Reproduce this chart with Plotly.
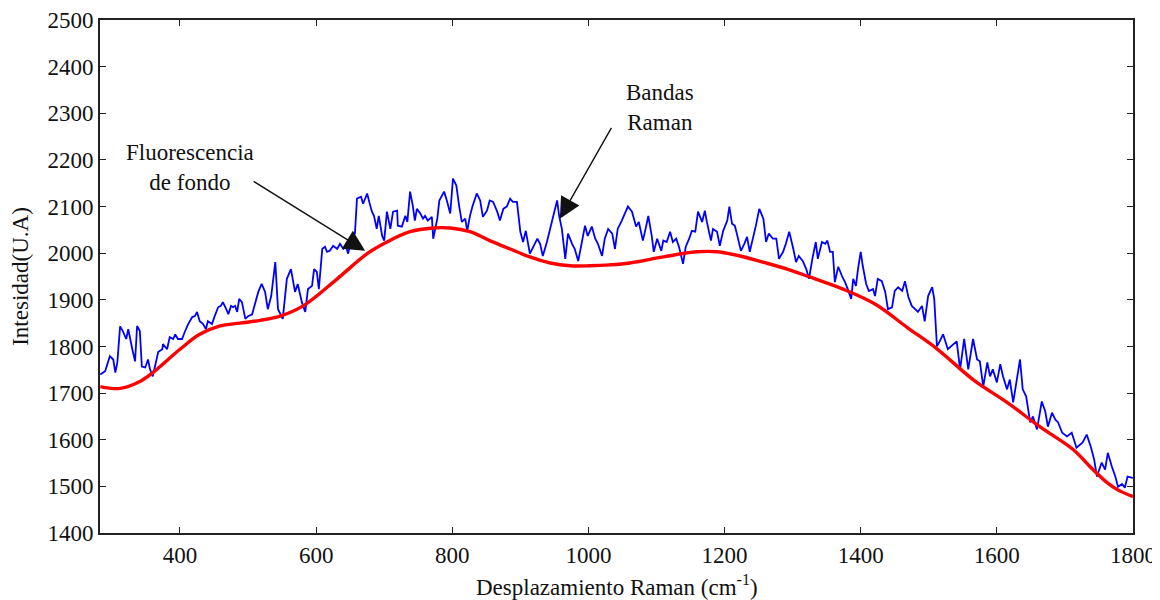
import plotly.graph_objects as go

# Raman spectrum (blue, noisy)
raman_x = [283, 290, 297, 302, 305, 308, 312, 316, 321, 324, 330, 334, 337, 341, 344, 349, 353, 356, 360, 365,
           368, 374, 375, 381, 385, 390, 393, 397, 403, 407, 412, 418, 422, 425, 429, 434, 438, 441, 447, 451,
           456, 460, 463, 468, 471, 475, 478, 481, 484, 487, 491, 496, 500, 506, 510, 515, 520, 525, 529, 534,
           540, 544, 551, 557, 563, 569, 573, 579, 584, 588, 594, 597, 601, 604, 609, 613, 616, 620, 625, 631,
           635, 640, 644, 647, 653, 657, 660, 666, 669, 675, 678, 682, 685, 689, 692, 697, 700, 704, 709, 713,
           719, 720, 726, 731, 734, 738, 742, 745, 748, 753, 757, 760, 764, 770, 772, 778, 781, 785, 788, 792,
           797, 801, 806, 810, 814, 819, 822, 826, 830, 836, 841, 845, 851, 855, 860, 866, 870, 875, 880, 885,
           889, 895, 900, 904, 908, 914, 919, 925, 929, 933, 939, 944, 948, 954, 957, 961, 966, 970, 976, 980,
           985, 991, 995, 999, 1005, 1010, 1014, 1020, 1024, 1029, 1035, 1039, 1043, 1049, 1054, 1058, 1064, 1066, 1070, 1074,
           1080, 1085, 1088, 1093, 1096, 1101, 1107, 1110, 1115, 1120, 1124, 1129, 1133, 1139, 1143, 1148, 1152, 1157, 1161, 1167,
           1171, 1174, 1180, 1183, 1189, 1193, 1198, 1204, 1207, 1211, 1215, 1218, 1224, 1229, 1233, 1237, 1242, 1246, 1251, 1257,
           1261, 1265, 1271, 1276, 1280, 1286, 1290, 1295, 1301, 1305, 1309, 1315, 1320, 1324, 1329, 1334, 1337, 1343, 1348, 1351,
           1355, 1359, 1362, 1367, 1373, 1377, 1381, 1386, 1389, 1393, 1396, 1400, 1403, 1408, 1412, 1418, 1421, 1425, 1431, 1436,
           1440, 1446, 1450, 1455, 1461, 1465, 1470, 1475, 1480, 1484, 1490, 1494, 1499, 1505, 1508, 1512, 1516, 1521, 1528, 1541,
           1546, 1552, 1558, 1565, 1571, 1575, 1580, 1586, 1590, 1594, 1600, 1605, 1609, 1615, 1619, 1624, 1634, 1638, 1643, 1649,
           1653, 1659, 1666, 1671, 1675, 1681, 1686, 1690, 1696, 1703, 1710, 1717, 1726, 1732, 1738, 1743, 1747, 1754, 1759, 1763,
           1769, 1774, 1778, 1784, 1788, 1792, 1800]
raman_y = [1740, 1747, 1779, 1772, 1744, 1766, 1843, 1833, 1816, 1837, 1794, 1768, 1844, 1833, 1757, 1755, 1772, 1751, 1736, 1766,
           1788, 1794, 1805, 1794, 1820, 1816, 1826, 1816, 1816, 1831, 1848, 1863, 1865, 1874, 1854, 1848, 1837, 1854, 1848, 1865,
           1884, 1887, 1895, 1880, 1869, 1887, 1884, 1887, 1874, 1902, 1895, 1859, 1865, 1869, 1891, 1917, 1934, 1917, 1880, 1908,
           1981, 1880, 1859, 1945, 1966, 1917, 1934, 1895, 1874, 1923, 1930, 1966, 1960, 1923, 2009, 2014, 2003, 2005, 2016, 2009,
           2020, 2009, 2014, 1999, 2037, 2042, 2117, 2121, 2106, 2128, 2110, 2089, 2080, 2052, 2080, 2037, 2027, 2089, 2052, 2089,
           2091, 2059, 2057, 2080, 2067, 2132, 2102, 2070, 2095, 2085, 2074, 2080, 2070, 2078, 2031, 2074, 2113, 2123, 2132, 2113,
           2085, 2160, 2145, 2102, 2067, 2074, 2048, 2080, 2102, 2128, 2113, 2078, 2091, 2113, 2110, 2089, 2070, 2095, 2100, 2117,
           2110, 2110, 2046, 2024, 2048, 1999, 2014, 2031, 2020, 1994, 2024, 2052, 2074, 2113, 2080, 2052, 1988, 2042, 2020, 2009,
           1983, 2031, 2059, 2037, 2057, 2031, 2020, 1994, 2031, 2052, 2042, 2009, 2052, 2070, 2089, 2100, 2089, 2078, 2057, 2067,
           2027, 2059, 2080, 2037, 2003, 2031, 2005, 2027, 2024, 2046, 2024, 2031, 2014, 1977, 2014, 2031, 2048, 2046, 2089, 2067,
           2091, 2067, 2027, 2052, 2046, 2016, 2048, 2070, 2100, 2063, 2059, 2042, 2005, 2020, 2035, 2003, 2031, 2059, 2095, 2074,
           2024, 2042, 2031, 2031, 1988, 2003, 2020, 2046, 2009, 1981, 1994, 1983, 1966, 1945, 1988, 2024, 1988, 2024, 2020, 2027,
           2003, 2003, 1938, 1971, 1949, 1938, 1923, 1902, 1945, 1930, 1966, 2003, 1973, 1934, 1919, 1923, 1908, 1945, 1940, 1917,
           1880, 1884, 1919, 1927, 1919, 1940, 1906, 1887, 1880, 1874, 1887, 1854, 1908, 1927, 1902, 1800, 1811, 1826, 1794, 1811,
           1751, 1816, 1751, 1816, 1772, 1768, 1714, 1766, 1736, 1751, 1723, 1762, 1736, 1708, 1729, 1680, 1772, 1708, 1693, 1637,
           1650, 1622, 1682, 1661, 1628, 1658, 1643, 1637, 1615, 1607, 1615, 1583, 1594, 1611, 1585, 1557, 1521, 1551, 1536, 1572,
           1542, 1521, 1499, 1505, 1497, 1521, 1518]

# Fluorescence background (red, smooth)
fondo_x = [283, 312, 341, 360, 400, 429, 459, 488, 518, 547, 581, 631, 675, 704, 738, 772, 797, 826, 855, 885,
           914, 944, 973, 1002, 1032, 1061, 1110, 1159, 1189, 1223, 1256, 1292, 1325, 1374, 1421, 1469, 1512, 1565, 1615, 1663,
           1712, 1737, 1762, 1777, 1800]
fondo_y = [1714, 1710, 1725, 1744, 1794, 1826, 1844, 1850, 1856, 1865, 1887, 1945, 1999, 2024, 2046, 2054, 2054, 2046, 2027, 2009,
           1992, 1979, 1973, 1973, 1975, 1979, 1992, 2003, 2003, 1994, 1981, 1966, 1949, 1923, 1891, 1840, 1795, 1729, 1680, 1628,
           1579, 1542, 1508, 1493, 1478]

x_ticks = [400, 600, 800, 1000, 1200, 1400, 1600, 1800]
y_ticks = [1400, 1500, 1600, 1700, 1800, 1900, 2000, 2100, 2200, 2300, 2400, 2500]

FONT = "Liberation Serif"
FS = 23

fig = go.Figure()
fig.add_trace(go.Scatter(x=raman_x, y=raman_y, mode="lines",
                         line=dict(color="#0000FF", width=1.8), showlegend=False))
fig.add_trace(go.Scatter(x=fondo_x, y=fondo_y, mode="lines",
                         line=dict(color="#FF0000", width=3.4, shape="spline", smoothing=1.0), showlegend=False))

axis_common = dict(showline=True, linecolor="#222", linewidth=1.8, mirror="allticks",
                   ticks="inside", ticklen=6, tickwidth=1.4, tickcolor="#222",
                   showgrid=False, zeroline=False, automargin=False,
                   tickfont=dict(family=FONT, size=FS, color="#111"))

fig.update_xaxes(range=[282.5, 1800], tickvals=x_ticks, ticktext=[str(v) for v in x_ticks],
                 **axis_common)
fig.update_yaxes(range=[1400, 2500], tickvals=y_ticks, ticktext=[str(v) for v in y_ticks],
                 title=dict(text="Intesidad(U.A)", font=dict(family=FONT, size=FS, color="#111"), standoff=12),
                 **axis_common)

# X-axis title as a paper-anchored annotation (below the tick labels)
fig.add_annotation(x=0.5, y=0, xref="paper", yref="paper", yanchor="middle", yshift=-52,
                   text="Desplazamiento Raman (cm<sup>-1</sup>)", showarrow=False,
                   font=dict(family=FONT, size=FS, color="#111"))

# Text annotations
fig.add_annotation(x=415, y=2184, text="Fluorescencia<br>de fondo", showarrow=False,
                   font=dict(family=FONT, size=FS, color="#111"), align="center")
fig.add_annotation(x=1105, y=2313, text="Bandas<br>Raman", showarrow=False,
                   font=dict(family=FONT, size=FS, color="#111"), align="center")
# Arrows
fig.add_annotation(x=672, y=2005, ax=506, ay=2156, axref="x", ayref="y", text="",
                   showarrow=True, arrowhead=2, arrowsize=3, arrowwidth=1.4, arrowcolor="#111")
fig.add_annotation(x=958, y=2074, ax=1035, ay=2272, axref="x", ayref="y", text="",
                   showarrow=True, arrowhead=2, arrowsize=3, arrowwidth=1.4, arrowcolor="#111")

# The page body adds an 8px offset; size/margins compensate so the plot box sits at x 100..1133, y 20..533
fig.update_layout(width=1152, height=592, margin=dict(l=92, r=27, t=12, b=67),
                  plot_bgcolor="white", paper_bgcolor="white")

fig.write_html("out.html")
